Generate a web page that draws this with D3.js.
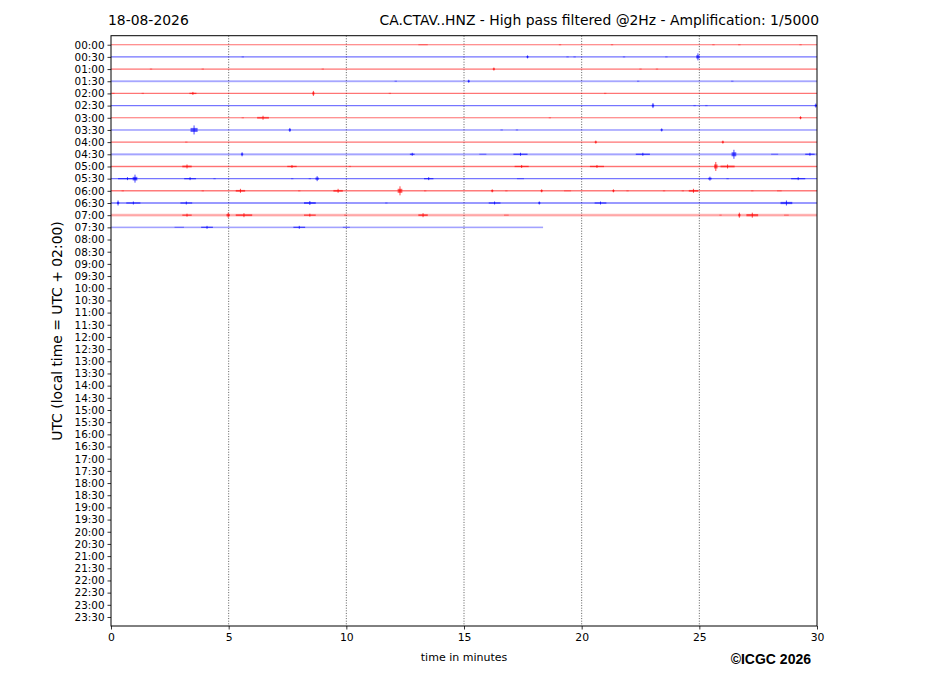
<!DOCTYPE html>
<html><head><meta charset="utf-8">
<script src="https://cdn.jsdelivr.net/npm/d3@7"></script>
<style>body{margin:0;background:#fff}svg{display:block}text{font-family:"DejaVu Sans",sans-serif}</style>
</head><body><svg id="c" width="927" height="696"></svg>
<script>
const dateLabel = "18-08-2026";
const titleLabel = "CA.CTAV..HNZ - High pass filtered @2Hz - Amplification: 1/5000";
const yAxisLabel = "UTC (local time = UTC + 02:00)";
const xAxisLabel = "time in minutes";
const creditLabel = "©ICGC 2026";
const rowLabels = ["00:00","00:30","01:00","01:30","02:00","02:30","03:00","03:30","04:00","04:30",
 "05:00","05:30","06:00","06:30","07:00","07:30","08:00","08:30","09:00","09:30","10:00","10:30",
 "11:00","11:30","12:00","12:30","13:00","13:30","14:00","14:30","15:00","15:30","16:00","16:30",
 "17:00","17:30","18:00","18:30","19:00","19:30","20:00","20:30","21:00","21:30","22:00","22:30",
 "23:00","23:30"];
const xTicks = [0,5,10,15,20,25,30];
// recorded length (minutes) of each trace row
const traceEnd = [30,30,30,30,30,30,30,30,30,30,30,30,30,30,30,18.36];
// background noise level of each row (relative)
const noiseLevel = [1.0,1.0,1.1,2.0,1.0,1.0,1.0,1.0,1.2,2.0,1.2,1.2,1.4,1.3,2.4,1.6];
// events per row: [minute, amplitude (counts, relative), duration (minutes)]
const events = [
 [[13.26,1,0.4],[19.08,0.8,0.1],[21.29,0.8,0.1],[25.6,0.6,0.1],[26.7,0.6,0.1],[29.3,0.8,0.1]],
 [[5.6,0.7,0.1],[17.7,1.5,0.1],[19.4,1,0.1],[19.7,0.8,0.1],[21.8,1,0.1],[23.6,1,0.1],[24.94,3.5,0.15]],
 [[1.7,0.7,0.1],[3.9,0.7,0.1],[9.0,0.7,0.1],[16.27,1.5,0.1],[22.5,0.8,0.1],[23.2,1,0.1]],
 [[12.1,0.8,0.1],[15.2,1.5,0.1],[22.4,1.2,0.1],[26.4,1.2,0.1]],
 [[0.1,0.8,0.1],[1.35,0.8,0.1],[3.48,1.5,0.3],[8.6,2.5,0.1],[11.85,0.8,0.1],[21.0,0.8,0.1]],
 [[23.03,2.5,0.1],[24.8,1,0.1],[25.3,1,0.1],[29.95,2,0.1]],
 [[5.6,0.8,0.1],[6.46,2,0.5],[18.65,0.8,0.1],[29.3,1.5,0.1]],
 [[3.53,4.5,0.3],[7.6,2,0.1],[16.6,0.8,0.1],[17.25,0.8,0.1],[23.4,1.5,0.1]],
 [[3.2,0.8,0.1],[20.6,1.5,0.1],[26.0,1.5,0.1]],
 [[5.57,2,0.1],[12.8,1.5,0.2],[15.8,1,0.3],[17.4,1.5,0.6],[22.6,1.5,0.6],[26.47,4.5,0.2],[28.2,1,0.3],[29.7,1.5,0.4]],
 [[3.23,2,0.4],[7.69,1.5,0.4],[10.15,0.8,0.1],[17.45,1.5,0.6],[20.65,1.5,0.6],[25.7,4.5,0.15],[26.2,2,0.6]],
 [[0.7,1.5,0.8],[1.02,4,0.2],[3.36,1.5,0.5],[4.4,0.8,0.1],[7.7,0.8,0.1],[8.45,1,0.1],[8.76,2.5,0.15],[13.5,1.5,0.4],[17.4,1,0.3],[25.45,2,0.15],[26.2,1,0.1],[29.2,1.5,0.6]],
 [[0.5,0.8,0.1],[3.9,0.8,0.1],[5.5,2,0.4],[8.0,1,0.1],[9.65,2,0.4],[12.28,4.5,0.2],[13.35,1,0.1],[16.2,1.5,0.1],[16.8,1,0.1],[18.3,1.5,0.1],[19.4,1,0.3],[21.35,1.5,0.1],[21.95,1,0.1],[23.5,1,0.1],[24.3,1,0.1],[24.75,2,0.4],[27.25,1,0.1],[28.4,1,0.2]],
 [[0.3,2.5,0.1],[0.95,1.5,0.6],[3.2,1.5,0.5],[8.45,2,0.5],[11.7,0.8,0.1],[16.3,1.5,0.5],[18.2,1.5,0.1],[20.8,1.5,0.5],[28.7,2.5,0.5]],
 [[3.23,1.5,0.4],[4.98,2.5,0.15],[5.65,2,0.7],[8.45,1.5,0.5],[9.95,1,0.1],[13.26,2,0.4],[16.8,1,0.2],[25.9,1,0.1],[26.7,2.5,0.1],[27.25,2.5,0.5],[28.7,1,0.2]],
 [[2.9,1,0.4],[4.08,1.5,0.5],[8.0,1.5,0.5],[10.0,1,0.3]]
];

const svg = d3.select("#c");
const L = 111, R = 817, T = 35.7, B = 626;
const x = d3.scaleLinear().domain([0, 30]).range([L, R]);
const y = d3.scaleLinear().domain([-0.74, 47.74]).range([T, B]);
const amp = d3.scaleLinear().domain([0, 1]).range([0, 1]); // relative amplitude -> px
const rowColor = i => i % 2 === 0 ? "#ff0000" : "#0000ff";

// grid lines
svg.append("g").selectAll("line").data(xTicks.filter(t => t > 0 && t < 30)).join("line")
  .attr("x1", d => x(d)).attr("x2", d => x(d)).attr("y1", T).attr("y2", B)
  .attr("stroke", "#333").attr("stroke-width", 0.8).attr("stroke-dasharray", "1,1.6");

// traces
const tr = svg.append("g");
traceEnd.forEach((end, i) => {
  const g = tr.append("g");
  const c = rowColor(i);
  const yy = y(i);
  const n = noiseLevel[i];
  g.append("line").attr("x1", x(0)).attr("x2", x(end)).attr("y1", yy).attr("y2", yy)
    .attr("stroke", c).attr("stroke-width", 1.1 * n).attr("stroke-opacity", n > 1.5 ? 0.25 : 0.45);
  g.append("line").attr("x1", x(0)).attr("x2", x(end)).attr("y1", yy).attr("y2", yy)
    .attr("stroke", c).attr("stroke-width", 0.6).attr("stroke-opacity", 0.3);
  events[i].forEach(([m, a, w]) => {
    g.append("line").attr("x1", x(m - w / 2)).attr("x2", x(m + w / 2)).attr("y1", yy).attr("y2", yy)
      .attr("stroke", c).attr("stroke-width", Math.max(1.3, amp(a) * 0.9)).attr("stroke-opacity", a >= 1.5 ? 0.6 : 0.35);
    if (a >= 1.5) {
      g.append("line").attr("x1", x(m)).attr("x2", x(m)).attr("y1", yy - amp(a)).attr("y2", yy + amp(a))
        .attr("stroke", c).attr("stroke-width", 0.9).attr("stroke-opacity", 0.8);
    }
  });
});

// axes
const yAxis = d3.axisLeft(y).tickValues(d3.range(rowLabels.length)).tickFormat(i => rowLabels[i]).tickSize(3.5).tickPadding(3);
const ya = svg.append("g").attr("transform", `translate(${L},0)`).call(yAxis);
ya.select(".domain").remove();
ya.selectAll("text").attr("font-size", 10.4).attr("fill", "#000").attr("font-family", "DejaVu Sans");
ya.selectAll("line").attr("stroke", "#000").attr("stroke-width", 0.8);
const xAxis = d3.axisBottom(x).tickValues(xTicks).tickSize(3.5).tickPadding(3.5);
const xa = svg.append("g").attr("transform", `translate(0,${B})`).call(xAxis);
xa.select(".domain").remove();
xa.selectAll("text").attr("font-size", 10.8).attr("fill", "#000").attr("font-family", "DejaVu Sans");
xa.selectAll("line").attr("stroke", "#000").attr("stroke-width", 0.8);

// frame
svg.append("rect").attr("x", L).attr("y", T).attr("width", R - L).attr("height", B - T)
  .attr("fill", "none").attr("stroke", "#000").attr("stroke-width", 1);

// texts
svg.append("text").attr("x", 108).attr("y", 25).attr("font-size", 13.9).text(dateLabel);
svg.append("text").attr("x", 819).attr("y", 25).attr("text-anchor", "end").attr("font-size", 13.9).text(titleLabel);
svg.append("text").attr("transform", "translate(62,331) rotate(-90)").attr("text-anchor", "middle")
  .attr("font-size", 13.9).text(yAxisLabel);
svg.append("text").attr("x", 464).attr("y", 661).attr("text-anchor", "middle").attr("font-size", 11).text(xAxisLabel);
svg.append("text").attr("x", 811).attr("y", 664).attr("text-anchor", "end").attr("font-size", 14)
  .attr("font-weight", "bold").style("font-family", "'Liberation Sans', Arial, sans-serif").text(creditLabel);
</script></body></html>
